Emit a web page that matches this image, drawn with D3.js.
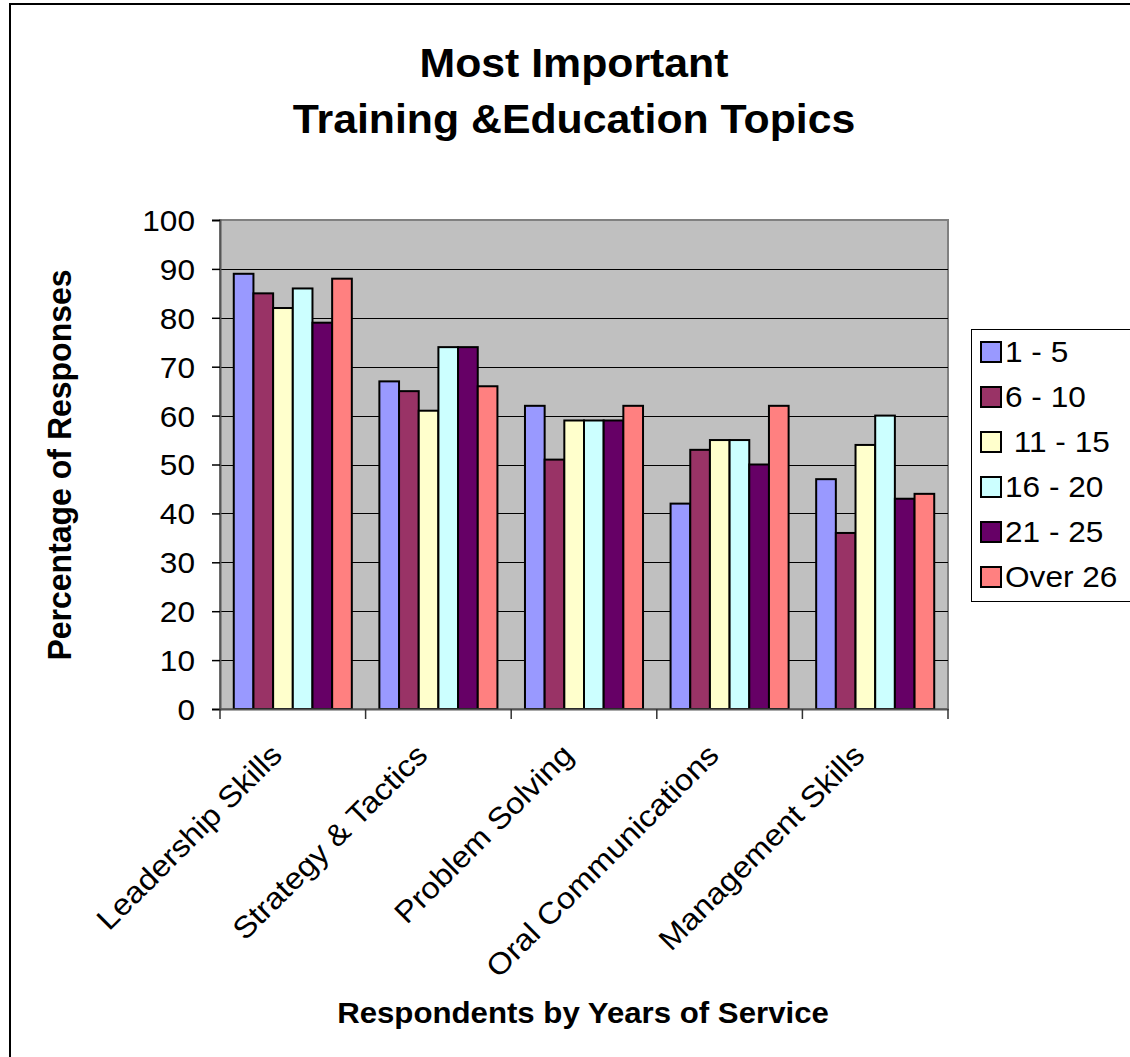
<!DOCTYPE html>
<html>
<head>
<meta charset="utf-8">
<script src="https://cdn.jsdelivr.net/npm/d3@7"></script>
<style>
  html, body { margin: 0; padding: 0; background: #fff; }
  svg { display: block; font-family: "Liberation Sans", Arial, sans-serif; }
</style>
</head>
<body>
<svg id="chart" width="1130" height="1057"></svg>
<script>
// ---- data ----
const categories = ["Leadership Skills", "Strategy & Tactics", "Problem Solving", "Oral Communications", "Management Skills"];
const seriesNames = ["1 - 5", "6 - 10", " 11 - 15", "16 - 20", "21 - 25", "Over 26"];
const s1_5    = [89, 67, 62, 42, 47];
const s6_10   = [85, 65, 51, 53, 36];
const s11_15  = [82, 61, 59, 55, 54];
const s16_20  = [86, 74, 59, 55, 60];
const s21_25  = [79, 74, 59, 50, 43];
const sOver26 = [88, 66, 62, 62, 44];
const yTicks = [0, 10, 20, 30, 40, 50, 60, 70, 80, 90, 100];
const titleLines = ["Most Important", "Training &Education Topics"];
const xTitle = "Respondents by Years of Service";
const yTitle = "Percentage of Responses";

const seriesValues = [s1_5, s6_10, s11_15, s16_20, s21_25, sOver26];
const colors = ["#9999FF", "#993366", "#FFFFCC", "#CCFFFF", "#660066", "#FF8080"];

// ---- layout ----
const svg = d3.select("#chart");
const plot = { left: 220, right: 948, top: 220, bottom: 709 };
const SX = 1.09; // horizontal glyph stretch of the original rendering

// outer chart border
svg.append("rect").attr("x", 10).attr("y", 4).attr("width", 1200).attr("height", 1200)
  .attr("fill", "#fff").attr("stroke", "#000").attr("stroke-width", 2);

const x = d3.scaleBand().domain(categories).range([plot.left, plot.right]).padding(0);
const y = d3.scaleLinear().domain([0, 100]).range([plot.bottom, plot.top]);
const bw = x.bandwidth();
const barW = bw / 7.4;
const xs = d3.scaleBand().domain(d3.range(seriesNames.length))
  .range([0.7 * barW, bw - 0.7 * barW]).padding(0);

// plot area
svg.append("rect").attr("x", plot.left).attr("y", plot.top)
  .attr("width", plot.right - plot.left).attr("height", plot.bottom - plot.top)
  .attr("fill", "#C0C0C0").attr("stroke", "#808080").attr("stroke-width", 2);

// gridlines
svg.append("g").selectAll("line").data(yTicks.filter(t => t > 0 && t < 100)).join("line")
  .attr("x1", plot.left).attr("x2", plot.right)
  .attr("y1", d => Math.round(y(d)) + 0.5).attr("y2", d => Math.round(y(d)) + 0.5)
  .attr("stroke", "#000").attr("stroke-width", 1);

// bars
const groups = svg.append("g").selectAll("g").data(categories).join("g")
  .attr("transform", d => `translate(${x(d)},0)`);
groups.selectAll("rect").data((c, ci) => seriesValues.map((vals, si) => ({ si, v: vals[ci] })))
  .join("rect")
  .attr("x", d => xs(d.si)).attr("width", xs.bandwidth())
  .attr("y", d => y(d.v)).attr("height", d => y(0) - y(d.v))
  .attr("fill", d => colors[d.si]).attr("stroke", "#000").attr("stroke-width", 2);

// y axis
const yAxis = svg.append("g").attr("transform", `translate(${plot.left},0)`)
  .call(d3.axisLeft(y).tickValues(yTicks).tickSize(8).tickPadding(0).tickFormat(d3.format("d")));
yAxis.select(".domain").attr("stroke", "#555").attr("stroke-width", 2);
yAxis.selectAll(".tick line").attr("stroke", "#000").attr("stroke-width", 1.5);
yAxis.selectAll(".tick text").remove();
yAxis.selectAll(".tick").append("g").attr("transform", `translate(-25,0) scale(${SX},1)`)
  .append("text").attr("text-anchor", "end").attr("dy", "0.36em")
  .attr("font-size", 29).attr("fill", "#000").text(d => d);

// x axis
const xAxis = svg.append("g").attr("transform", `translate(0,${plot.bottom})`)
  .call(d3.axisBottom(x).tickSize(0).tickFormat(""));
xAxis.select(".domain").attr("stroke", "#555").attr("stroke-width", 2);
xAxis.selectAll(".tick").remove();
const boundaries = categories.map(c => x(c)).concat([x(categories[categories.length - 1]) + bw]);
xAxis.selectAll("line.bt").data(boundaries).join("line").attr("class", "bt")
  .attr("x1", d => d).attr("x2", d => d).attr("y1", 0).attr("y2", 10)
  .attr("stroke", "#333").attr("stroke-width", 1.5);

// category labels
svg.append("g").selectAll("g").data(categories).join("g")
  .attr("transform", d => `translate(${x(d) + bw / 2 - 9},${plot.bottom + 48}) rotate(-45) scale(1.09,1)`)
  .append("text").attr("text-anchor", "end").attr("font-size", 30).attr("fill", "#000").text(d => d);

// title
svg.append("g").selectAll("g").data(titleLines).join("g")
  .attr("transform", (d, i) => `translate(574,${77 + i * 56}) scale(1.07,1)`)
  .append("text").attr("text-anchor", "middle").attr("font-size", 40).attr("font-weight", "bold")
  .attr("fill", "#000").text(d => d);

// x title
svg.append("g").attr("transform", `translate(583,1023) scale(1.04,1)`)
  .append("text").attr("text-anchor", "middle").attr("font-size", 30).attr("font-weight", "bold")
  .text(xTitle);

// y title
svg.append("g").attr("transform", `translate(71,465) scale(1.05,1) rotate(-90)`)
  .append("text").attr("text-anchor", "middle").attr("font-size", 32).attr("font-weight", "bold")
  .text(yTitle);

// legend
const legend = svg.append("g");
legend.append("rect").attr("x", 971.5).attr("y", 329.5).attr("width", 200).attr("height", 272)
  .attr("fill", "#fff").attr("stroke", "#000").attr("stroke-width", 1);
const items = legend.selectAll("g.item").data(seriesNames).join("g").attr("class", "item")
  .attr("transform", (d, i) => `translate(981,${342 + i * 45})`);
items.append("rect").attr("x", 0).attr("y", 0).attr("width", 20).attr("height", 20)
  .attr("fill", (d, i) => colors[i]).attr("stroke", "#000").attr("stroke-width", 2);
items.append("g").attr("transform", `translate(24,10) scale(${SX},1)`)
  .append("text").attr("dy", "0.36em").attr("font-size", 29).attr("fill", "#000")
  .attr("xml:space", "preserve").style("white-space", "pre").text(d => d);
</script>
</body>
</html>
